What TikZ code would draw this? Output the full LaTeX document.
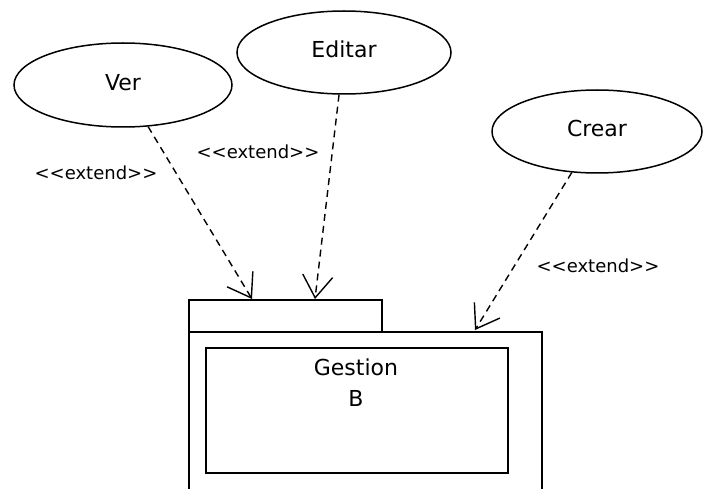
\documentclass[tikz,border=0pt]{standalone}
\usepackage{fontspec}
\setmainfont{DejaVu Sans}
\usetikzlibrary{shapes.geometric,arrows.meta}
\tikzset{
  usecase/.style={ellipse, draw, line width=1.5pt, inner sep=0pt, minimum width=214pt, minimum height=83pt, font=\fontsize{22}{26}\selectfont},
  extlabel/.style={inner sep=0pt, font=\fontsize{18}{22}\selectfont},
  extarrow/.style={line width=1.4pt, dash pattern=on 7pt off 5pt, -{Straight Barb[length=22pt,width=30pt]}},
  pkgbox/.style={draw, line width=1.5pt, inner sep=0pt, anchor=north west},
}
\newcommand{\extendtext}{<{}<extend>{}>}
\begin{document}
\begin{tikzpicture}[x=1pt,y=-1pt]
\useasboundingbox (0,0) rectangle (704,489);
\clip (0,0) rectangle (704,489);
% use cases
\node[usecase, minimum width=218pt, minimum height=84pt] (ver) at (123,85) {\raisebox{5pt}{Ver}};
\node[usecase] (editar) at (344,52.5) {\raisebox{6pt}{Editar}};
\node[usecase, minimum width=210pt] (crear) at (597,131.5) {\raisebox{6pt}{Crear}};
% package
\node[pkgbox, minimum width=193pt, minimum height=32pt] (tab) at (188,299) {};
\node[pkgbox, minimum width=353pt, minimum height=170pt] (body) at (188,331) {};
\node[pkgbox, minimum width=302pt, minimum height=125pt] (inner) at (205,347) {};
\node[align=center, font=\fontsize{22}{31}\selectfont, anchor=north] (gestion) at (356,355) {Gestion\\B};
% arrow end points
\coordinate (pv) at (252,299);
\coordinate (pe) at (315,299);
\coordinate (pc) at (475,330);
\draw[extarrow] (ver) -- (pv);
\draw[extarrow] (editar) -- (pe);
\draw[extarrow] (crear) -- (pc);
% labels
\node[extlabel] (lv) at (96,173) {\extendtext};
\node[extlabel] (le) at (258,152) {\extendtext};
\node[extlabel] (lc) at (598,266) {\extendtext};
\end{tikzpicture}
\end{document}
